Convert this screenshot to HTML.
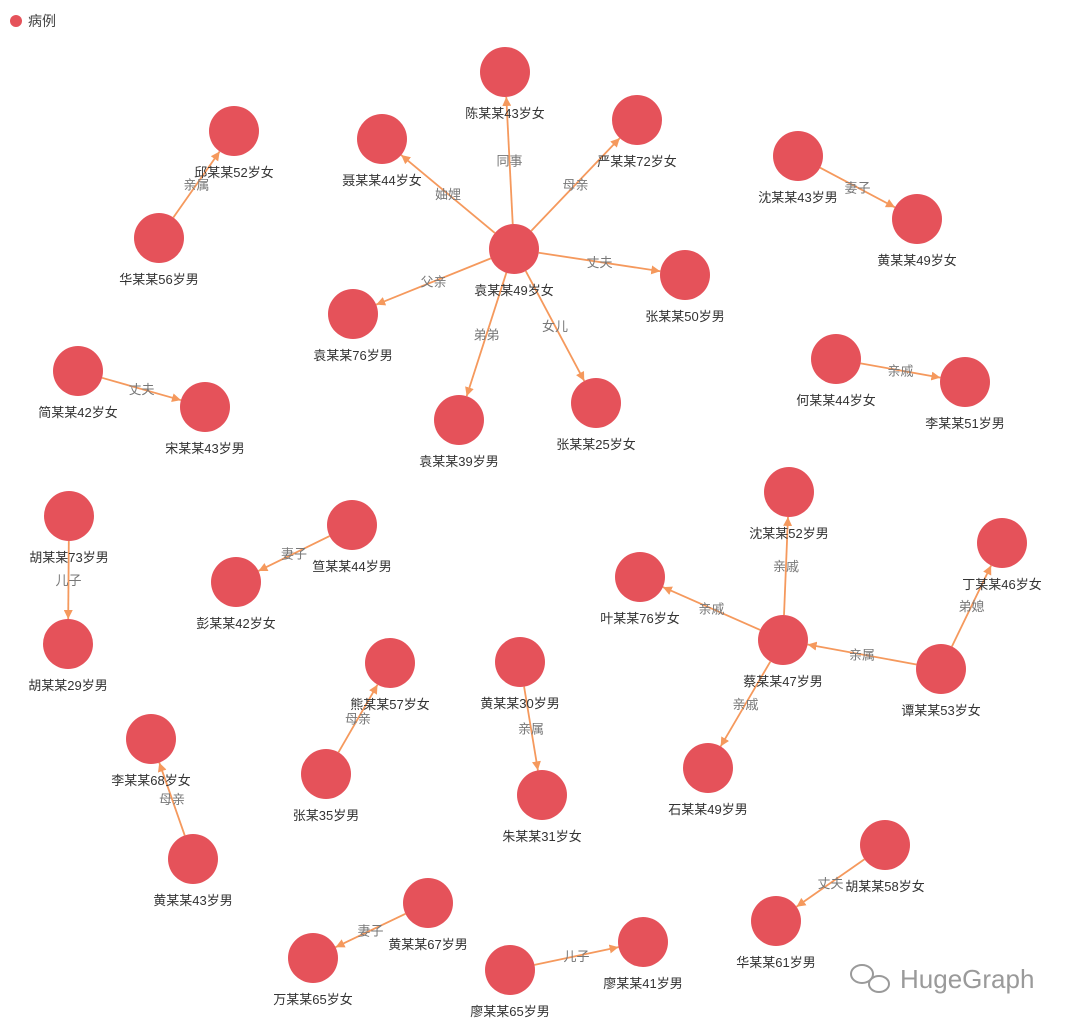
<!DOCTYPE html>
<html><head><meta charset="utf-8">
<style>
html,body{margin:0;padding:0;background:#fff;}
svg{display:block;font-family:"Liberation Sans","Noto Sans CJK SC",sans-serif;}
</style></head>
<body>
<svg id="chart" width="1080" height="1029" viewBox="0 0 1080 1029">
<defs>
<marker id="arrow" viewBox="0 0 10 10" refX="10" refY="5" markerWidth="9" markerHeight="9" markerUnits="userSpaceOnUse" orient="auto">
<path d="M0,0 L10,5 L0,10 z" fill="#f5995d"/>
</marker>
</defs>
<g>
<circle cx="16" cy="21" r="6" fill="#e5525a"/>
<text x="28" y="26" font-size="14" fill="#444">病例</text>
</g>
<g id="edges"></g>
<g id="nodes"></g>
<g>
<g fill="none" stroke="#9a9a9a" stroke-width="2">
<ellipse cx="862" cy="974" rx="11" ry="9"/>
<ellipse cx="879" cy="984" rx="10" ry="8"/>
</g>
<text x="900" y="988" font-size="26" fill="#9a9a9a">HugeGraph</text>
</g>
</svg>
<script>
const nodeNames = ["陈某某43岁女","聂某某44岁女","严某某72岁女","邱某某52岁女","华某某56岁男","沈某某43岁男","黄某某49岁女","袁某某49岁女","张某某50岁男","袁某某76岁男","何某某44岁女","李某某51岁男","简某某42岁女","宋某某43岁男","袁某某39岁男","张某某25岁女","沈某某52岁男","丁某某46岁女","胡某某73岁男","笪某某44岁男","彭某某42岁女","叶某某76岁女","蔡某某47岁男","谭某某53岁女","胡某某29岁男","熊某某57岁女","黄某某30岁男","李某某68岁女","张某35岁男","石某某49岁男","朱某某31岁女","黄某某43岁男","胡某某58岁女","黄某某67岁男","华某某61岁男","万某某65岁女","廖某某41岁男","廖某某65岁男"];
const nodeX = [505,382,637,234,159,798,917,514,685,353,836,965,78,205,459,596,789,1002,69,352,236,640,783,941,68,390,520,151,326,708,542,193,885,428,776,313,643,510];
const nodeY = [72,139,120,131,238,156,219,249,275,314,359,382,371,407,420,403,492,543,516,525,582,577,640,669,644,663,662,739,774,768,795,859,845,903,921,958,942,970];
const edgeSource = [7,7,7,7,7,7,7,4,5,10,12,18,19,22,22,22,23,23,28,26,31,32,33,37];
const edgeTarget = [0,1,2,8,9,14,15,3,6,11,13,24,20,16,21,29,22,17,25,30,27,34,35,36];
const edgeLabels = ["同事","妯娌","母亲","丈夫","父亲","弟弟","女儿","亲属","妻子","亲戚","丈夫","儿子","妻子","亲戚","亲戚","亲戚","亲属","弟媳","母亲","亲属","母亲","丈夫","妻子","儿子"];
const R = 25;
const NS = "http://www.w3.org/2000/svg";
const eg = document.getElementById('edges');
const ng = document.getElementById('nodes');
const lg = document.createElementNS(NS,'g');
for (let i=0;i<edgeSource.length;i++){
  const s=edgeSource[i], t=edgeTarget[i];
  const x1=nodeX[s], y1=nodeY[s], x2=nodeX[t], y2=nodeY[t];
  const dx=x2-x1, dy=y2-y1, d=Math.hypot(dx,dy);
  const ux=dx/d, uy=dy/d;
  const line=document.createElementNS(NS,'line');
  
  
  line.setAttribute('x1',x1+ux*R); line.setAttribute('y1',y1+uy*R);
  line.setAttribute('x2',x2-ux*R); line.setAttribute('y2',y2-uy*R);
  line.setAttribute('stroke','#f5995d'); line.setAttribute('stroke-width','1.8');
  line.setAttribute('marker-end','url(#arrow)');
  eg.appendChild(line);
  const tx=document.createElementNS(NS,'text');
  
  
  tx.setAttribute('x',(x1+x2)/2); tx.setAttribute('y',(y1+y2)/2+5);
  tx.setAttribute('text-anchor','middle'); tx.setAttribute('font-size','13');
  tx.setAttribute('fill','#777');
  tx.textContent=edgeLabels[i];
  lg.appendChild(tx);
}
for (let i=0;i<nodeNames.length;i++){
  const c=document.createElementNS(NS,'circle');
  
  
  c.setAttribute('cx',nodeX[i]); c.setAttribute('cy',nodeY[i]); c.setAttribute('r',R);
  c.setAttribute('fill','#e5525a');
  ng.appendChild(c);
}
for (let i=0;i<nodeNames.length;i++){
  const t=document.createElementNS(NS,'text');
  
  
  t.setAttribute('x',nodeX[i]); t.setAttribute('y',nodeY[i]+46);
  t.setAttribute('text-anchor','middle'); t.setAttribute('font-size','13');
  t.setAttribute('fill','#333');
  t.textContent=nodeNames[i];
  ng.appendChild(t);
}
ng.appendChild(lg);
</script>
</body></html>
